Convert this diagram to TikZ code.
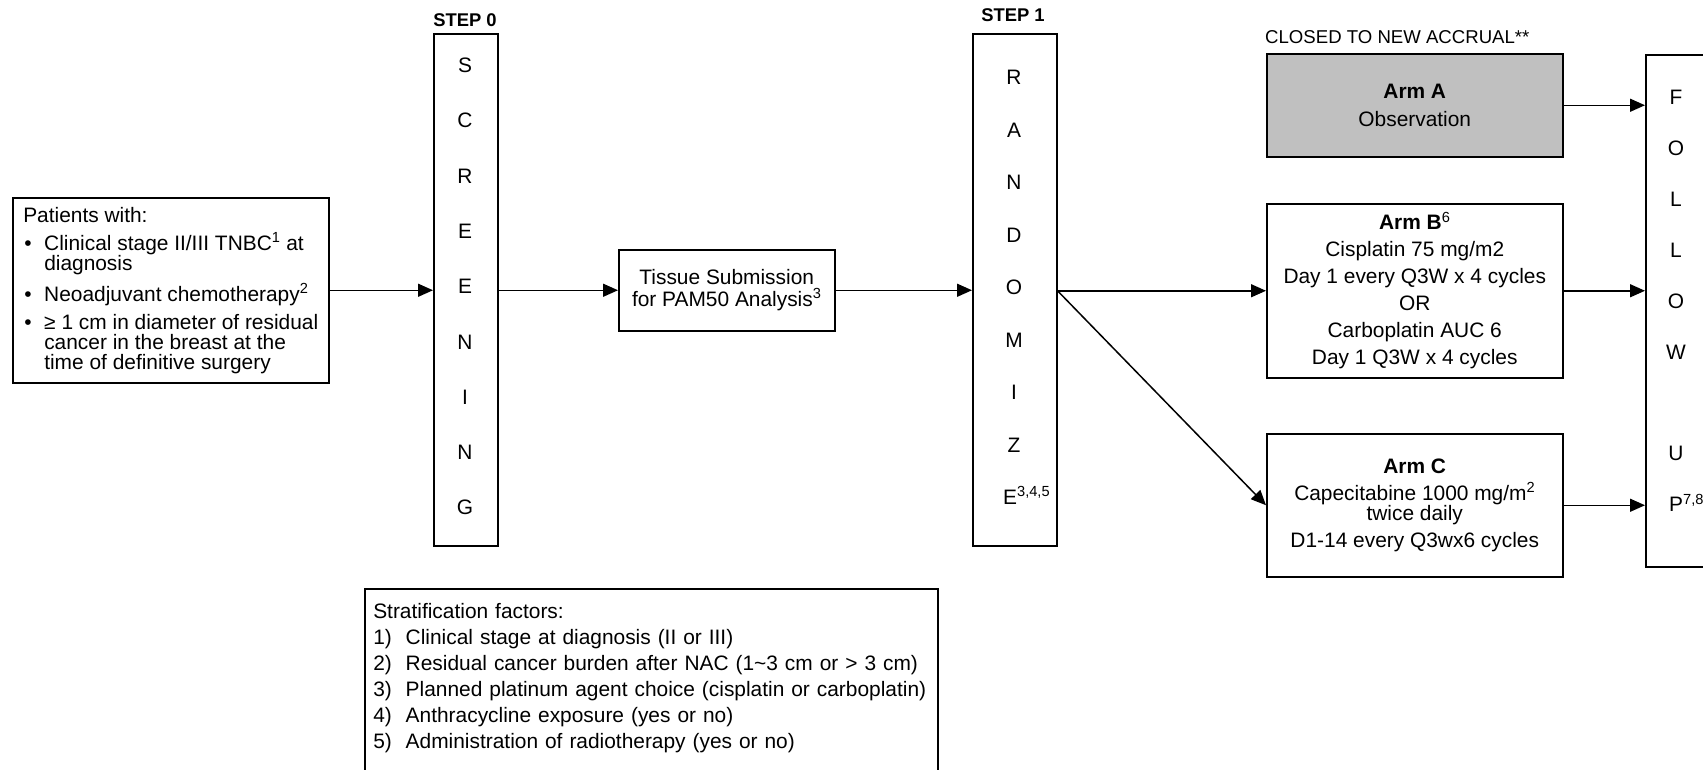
\documentclass[tikz,border=0pt]{standalone}
\usepackage{fontspec}
\setmainfont{Liberation Sans}
\usetikzlibrary{arrows.meta}
\definecolor{armgray}{RGB}{192,192,192}
\begin{document}
\tikzset{
  box/.style={draw, line width=1.5pt, inner sep=0pt, anchor=north west},
  arr/.style={line width=1.5pt, -{Triangle[length=15pt,width=13pt]}},
  letter/.style={inner sep=0pt, anchor=base, font=\fontsize{20.9}{20}\selectfont},
  steplabel/.style={inner sep=0pt, anchor=base, font=\fontsize{18.4}{20}\selectfont\bfseries},
}
\newcommand{\blt}{\makebox[21pt][l]{\hspace{1pt}\textbullet}}
\newcommand{\ind}{\hspace*{21pt}}
\begin{tikzpicture}[x=1pt,y=-1pt]
\useasboundingbox (0,0) rectangle (1703,769);

% Patients box
\node[box, minimum width=316, minimum height=185, align=left,
      font=\fontsize{20.9}{20}\selectfont] (pat) at (12,197)
 {Patients with:\\[8pt]
  \blt Clinical stage II/III TNBC\textsuperscript{1} at\\
  \ind diagnosis\\[8pt]
  \blt Neoadjuvant chemotherapy\textsuperscript{2}\\[8pt]
  \blt ≥ 1 cm in diameter of residual\\
  \ind cancer in the breast at the\\
  \ind time of definitive surgery};

% Screening
\node[box, minimum width=64, minimum height=512] (scr) at (433,33) {};
\node[steplabel] (s0) at (465,26) {STEP 0};
\foreach \l [count=\i from 0] in {S,C,R,E,E,N,I,N,G}
  \node[letter] (scrL\i) at (465,{72.5+\i*55.3}) {\l};

% Tissue
\node[box, minimum width=216, minimum height=81, align=center,
      font=\fontsize{20.9}{21.5}\selectfont] (tis) at (618,249)
 {Tissue Submission\\for PAM50 Analysis\textsuperscript{3}};

% Randomize
\node[box, minimum width=84, minimum height=512] (rnd) at (972,33) {};
\node[steplabel] (s1) at (1013,21) {STEP 1};
\foreach \l [count=\i from 0] in {R,A,N,D,O,M,I,Z}
  \node[letter] (rndL\i) at (1014,{84.5+\i*52.5}) {\l};
\node[letter, anchor=base west] (rndL8) at (1003,504.5) {E\textsuperscript{3,4,5}};

% Arms
\node[inner sep=0pt, anchor=base west, font=\fontsize{18.6}{20}\selectfont] (closed) at (1265,43) {CLOSED TO NEW ACCRUAL**};
\node[box, fill=armgray, minimum width=296, minimum height=103, align=center,
      font=\fontsize{20.9}{28}\selectfont] (armA) at (1266,53)
 {\textbf{Arm A}\\Observation};
\node[box, minimum width=296, minimum height=174, align=center,
      font=\fontsize{20.9}{27}\selectfont] (armB) at (1266,203)
 {\textbf{Arm B}\textsuperscript{6}\\Cisplatin 75 mg/m2\\Day 1 every Q3W x 4 cycles\\OR\\Carboplatin AUC 6\\Day 1 Q3W x 4 cycles};
\node[box, minimum width=296, minimum height=143, align=center,
      font=\fontsize{20.9}{20}\selectfont] (armC) at (1266,433)
 {\textbf{Arm C}\\[7pt]Capecitabine 1000 mg/m\textsuperscript{2}\\twice daily\\[7pt]D1-14 every Q3wx6 cycles};

% Follow up
\node[box, minimum width=80, minimum height=512] (fol) at (1645,54) {};
\foreach \l/\i in {F/0,O/1,L/2,L/3,O/4,W/5,U/7}
  \node[letter] (folL\i) at (1676,{104.5+\i*50.9}) {\l};
\node[letter, anchor=base west] (folL8) at (1669,511.7) {P\textsuperscript{7,8}};

% Stratification
\node[box, text width=556, inner xsep=8.5pt, inner ysep=14.8pt, align=left,
      font=\fontsize{20.9}{26}\selectfont] (strat) at (364,588)
 {Stratification factors:\\
  \makebox[32.5pt][l]{1)}Clinical stage at diagnosis (II or III)\\
  \makebox[32.5pt][l]{2)}Residual cancer burden after NAC (1\textasciitilde 3 cm or > 3 cm)\\
  \makebox[32.5pt][l]{3)}Planned platinum agent choice (cisplatin or carboplatin)\\
  \makebox[32.5pt][l]{4)}Anthracycline exposure (yes or no)\\
  \makebox[32.5pt][l]{5)}Administration of radiotherapy (yes or no)\rule[-40pt]{0pt}{1pt}};

% Connectors
\draw[arr] (pat.east) -- (pat.east -| scr.west);
\draw[arr] (tis.west -| scr.east) -- (tis.west);
\draw[arr] (tis.east) -- (tis.east -| rnd.west);
\draw[arr] (armB.west -| rnd.east) -- (armB.west);
\draw[arr] (armB.west -| rnd.east) -- (armC.west);
\draw[arr] (armA.east) -- (armA.east -| fol.west);
\draw[arr] (armB.east) -- (armB.east -| fol.west);
\draw[arr] (armC.east) -- (armC.east -| fol.west);
\end{tikzpicture}
\end{document}
